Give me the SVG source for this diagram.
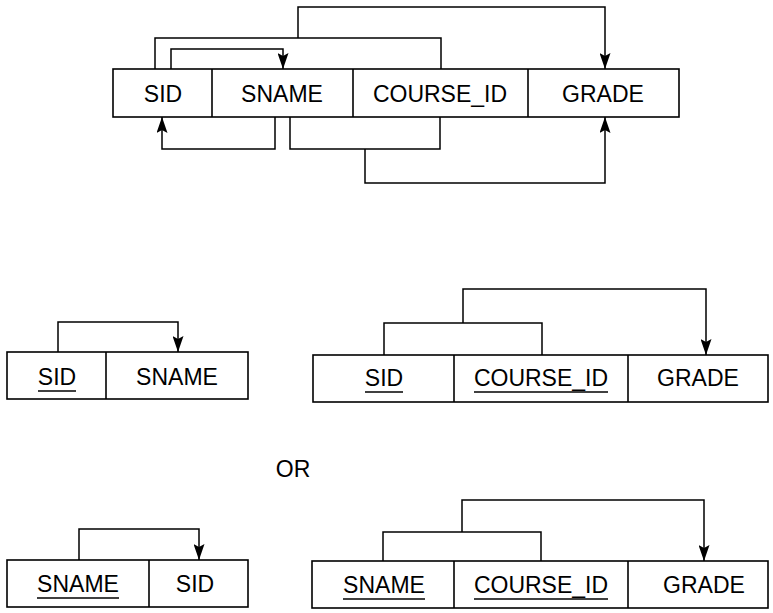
<svg xmlns="http://www.w3.org/2000/svg" width="773" height="613" viewBox="0 0 773 613">
<style>
.box{fill:none;stroke:#000;stroke-width:1.6}
.ln{fill:none;stroke:#000;stroke-width:1.5}
.ar{fill:none;stroke:#000;stroke-width:1.5;marker-end:url(#ah)}
.t{font-family:"Liberation Sans",Arial,sans-serif;font-size:23px;fill:#000;text-anchor:middle}
.ul{stroke:#000;stroke-width:1.6}
</style>
<defs>
<marker id="ah" viewBox="0 0 16 11" refX="16" refY="5.5" markerWidth="16" markerHeight="11" markerUnits="userSpaceOnUse" orient="auto">
<path d="M0,0 L16,5.5 L0,11 L3,5.5 Z" fill="#000"/>
</marker>
</defs>
<rect width="773" height="613" fill="#fff"/>

<g id="table-full">
<rect class="box" x="113" y="69" width="566" height="48"/>
<line class="box" x1="212" y1="69" x2="212" y2="117"/>
<line class="box" x1="353" y1="69" x2="353" y2="117"/>
<line class="box" x1="528" y1="69" x2="528" y2="117"/>
<text class="t" x="163" y="102">SID</text>
<text class="t" x="282" y="102">SNAME</text>
<text class="t" x="440" y="102">COURSE_ID</text>
<text class="t" x="603" y="102">GRADE</text>
</g>

<g id="table-sid-sname">
<rect class="box" x="7" y="352" width="241" height="47"/>
<line class="box" x1="106" y1="352" x2="106" y2="399"/>
<text class="t" x="57" y="385">SID</text>
<line class="ul" x1="38" y1="391" x2="76" y2="391"/>
<text class="t" x="177" y="385">SNAME</text>
</g>

<g id="table-sid-course-grade">
<rect class="box" x="313" y="355" width="455" height="47"/>
<line class="box" x1="454" y1="355" x2="454" y2="402"/>
<line class="box" x1="628" y1="355" x2="628" y2="402"/>
<text class="t" x="384" y="386">SID</text>
<line class="ul" x1="365" y1="392" x2="403" y2="392"/>
<text class="t" x="541" y="386">COURSE_ID</text>
<line class="ul" x1="474" y1="392" x2="608" y2="392"/>
<text class="t" x="698" y="386">GRADE</text>
</g>

<g id="or-label">
<text class="t" x="293" y="477">OR</text>
</g>

<g id="table-sname-sid">
<rect class="box" x="7" y="560" width="241" height="47"/>
<line class="box" x1="149" y1="560" x2="149" y2="607"/>
<text class="t" x="78" y="592">SNAME</text>
<line class="ul" x1="37" y1="598" x2="119" y2="598"/>
<text class="t" x="195" y="592">SID</text>
</g>

<g id="table-sname-course-grade">
<rect class="box" x="312" y="561" width="456" height="47"/>
<line class="box" x1="454" y1="561" x2="454" y2="608"/>
<line class="box" x1="628" y1="561" x2="628" y2="608"/>
<text class="t" x="384" y="593">SNAME</text>
<line class="ul" x1="343" y1="599" x2="425" y2="599"/>
<text class="t" x="541" y="593">COURSE_ID</text>
<line class="ul" x1="474" y1="599" x2="608" y2="599"/>
<text class="t" x="704" y="593">GRADE</text>
</g>

<g id="connectors">
<path class="ar" d="M171,69 V49 H283 V69"/>
<path class="ln" d="M155,69 V38 H441 V69"/>
<path class="ar" d="M298,38 V7 H605 V69"/>
<path class="ar" d="M275,117 V149 H162 V117"/>
<path class="ln" d="M290,117 V149 H440 V117"/>
<path class="ar" d="M365,149 V183 H605 V117"/>

<path class="ar" d="M58,352 V322 H178 V352"/>
<path class="ln" d="M384,355 V323 H542 V355"/>
<path class="ar" d="M463,323 V289 H706 V355"/>

<path class="ar" d="M79,560 V529 H199 V560"/>
<path class="ln" d="M383,561 V532 H541 V561"/>
<path class="ar" d="M462,532 V500 H704 V561"/>
</g>
</svg>
